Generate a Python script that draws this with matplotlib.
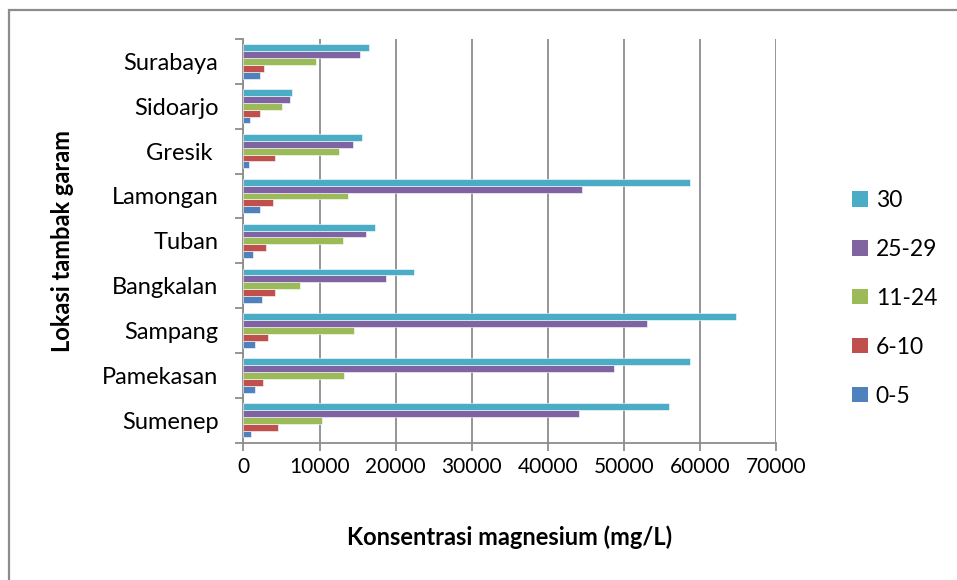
import numpy as np
import matplotlib
matplotlib.use('Agg')
from matplotlib import pyplot as plt
from matplotlib.patches import Rectangle, Patch

plt.rcParams['font.family'] = ['Lato', 'DejaVu Sans']

# data (mg/L), categories bottom -> top
lokasi = ['Sumenep', 'Pamekasan', 'Sampang', 'Bangkalan', 'Tuban',
          'Lamongan', 'Gresik ', 'Sidoarjo', 'Surabaya']
seri = ['0-5', '6-10', '11-24', '25-29', '30']
warna = ['#4F81BD', '#C0504D', '#9BBB59', '#8064A2', '#4BACC6']

v_0_5 = [970, 1480, 1480, 2410, 1230, 2240, 750, 840, 2240]
v_6_10 = [4570, 2540, 3230, 4120, 3020, 3940, 4210, 2240, 2760]
v_11_24 = [10300, 13210, 14550, 7450, 13060, 13800, 12530, 5040, 9550]
v_25_29 = [44110, 48680, 53070, 18710, 16120, 44500, 14420, 6140, 15330]
v_30 = [55980, 58660, 64760, 22430, 17260, 58700, 15560, 6440, 16480]
nilai = [v_0_5, v_6_10, v_11_24, v_25_29, v_30]

xticks = [0, 10000, 20000, 30000, 40000, 50000, 60000, 70000]

fig = plt.figure(figsize=(9.57, 5.80), dpi=100)
ax = fig.add_axes([0.2544, 0.2367, 0.5562, 0.6961])

y = np.arange(len(lokasi))
h = 0.153
for i, (s, c, v) in enumerate(zip(seri, warna, nilai)):
    ax.barh(y + (i - 2) * h, v, height=h, color=c, label=s,
            edgecolor='white', linewidth=0.4, zorder=3)

ax.set_xlim(0, 70000)
ax.set_ylim(-0.5, len(lokasi) - 0.5)
ax.set_xticks(xticks)
ax.set_xticklabels([str(t) for t in xticks], fontsize=15)
ax.xaxis.grid(True, color='#8c8c8c', linewidth=1.3, zorder=0)
ax.tick_params(axis='x', length=6, width=1.3, color='#8c8c8c', pad=4)

# y ticks at category boundaries, labels at centers
ax.set_yticks(np.arange(len(lokasi) + 1) - 0.5)
ax.set_yticklabels([])
ax.set_yticks(y, minor=True)
ax.set_yticklabels(lokasi, minor=True, fontsize=17)
ax.tick_params(axis='y', which='major', length=6, width=1.3, color='#8c8c8c')
ax.tick_params(axis='y', which='minor', length=0, pad=18)

for sp in ['top', 'right']:
    ax.spines[sp].set_visible(False)
for sp in ['left', 'bottom']:
    ax.spines[sp].set_color('#8c8c8c')
    ax.spines[sp].set_linewidth(1.3)

ax.set_xlabel('Konsentrasi magnesium (mg/L)', fontsize=17, fontweight='bold', labelpad=35)
ax.set_ylabel('Lokasi tambak garam', fontsize=17, fontweight='bold', labelpad=20)

hnd = [Patch(facecolor=c, label=s) for s, c in zip(seri, warna)][::-1]
fig.legend(handles=hnd, loc='center left', bbox_to_anchor=(0.869, 0.486),
           frameon=False, fontsize=16.5, handlelength=0.68, handleheight=0.68,
           handletextpad=0.35, labelspacing=1.22)

fig.patches.append(Rectangle((9 / 957, -0.05), 1.1, 1 - 10 / 580 + 0.05,
                             transform=fig.transFigure, fill=False,
                             edgecolor='#8c8c8c', linewidth=1.6))

fig.savefig('out.png', dpi=100)
